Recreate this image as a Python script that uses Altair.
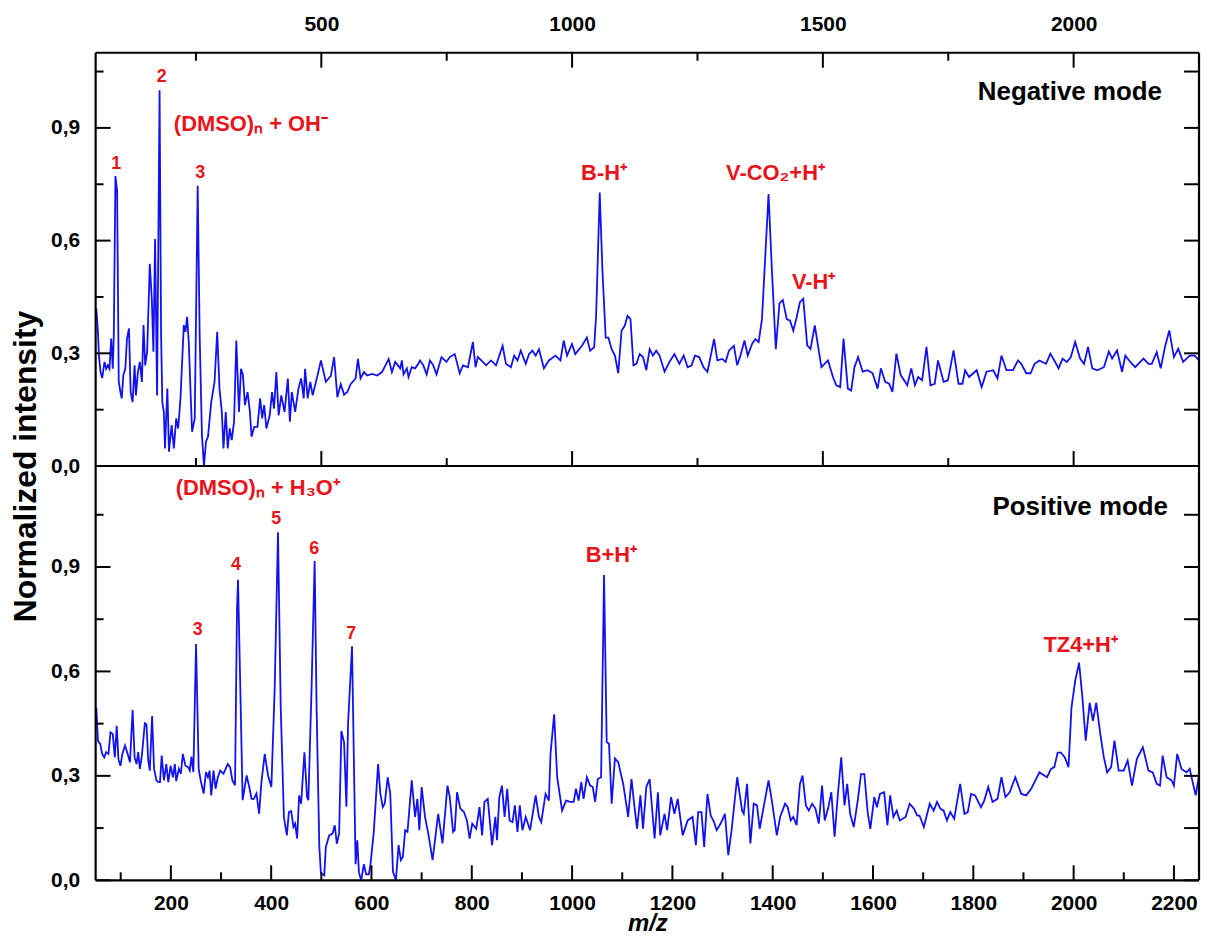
import altair as alt
import pandas as pd

# ---------------- data: negative mode (top panel) ----------------
mz_neg = [51.3, 54.6, 56.5, 59.8, 63.1, 67.7, 71.0, 74.3, 77.6, 81.0, 84.2, 86.2, 89.5, 92.8, 96.1, 99.4,
          102.0, 105.3, 109.2, 112.5, 116.5, 119.8, 123.7, 127.7, 130.3, 134.3, 138.2, 142.2, 145.5, 148.8,
          152.7, 158.0, 162.0, 165.2, 168.5, 172.5, 177.5, 180.5, 183.0, 186.0, 188.3, 193.0, 196.2, 201.5,
          206.0, 210.7, 214.6, 219.2, 225.8, 229.1, 232.4, 235.7, 239.0, 242.3, 247.6, 253.5, 257.4, 262.0,
          266.0, 270.0, 274.0, 280.5, 287.1, 292.4, 297.0, 301.6, 304.9, 309.5, 313.4, 317.4, 321.3, 326.0,
          330.5, 335.8, 339.8, 343.7, 347.7, 353.0, 357.6, 360.9, 366.1, 372.7, 378.0, 382.0, 386.0, 390.5,
          397.1, 401.7, 405.7, 410.3, 414.9, 420.1, 426.7, 433.3, 437.3, 441.2, 447.8, 454.4, 459.7, 464.9,
          467.6, 472.8, 478.1, 482.7, 492.6, 499.2, 509.0, 518.9, 525.5, 532.0, 538.7, 545.4, 551.9, 558.4,
          568.3, 573.0, 578.2, 585.0, 591.4, 601.3, 611.2, 621.0, 634.3, 640.8, 647.4, 657.3, 660.6, 663.9,
          670.5, 673.8, 680.3, 686.9, 693.5, 696.8, 703.4, 710.0, 716.6, 723.2, 729.7, 739.6, 749.5, 756.1,
          766.0, 775.9, 782.4, 792.3, 802.2, 807.5, 812.1, 822.0, 828.5, 838.4, 848.3, 861.5, 868.1, 878.0,
          884.5, 891.1, 897.7, 907.6, 914.2, 920.8, 927.4, 933.9, 943.8, 953.7, 966.9, 976.8, 983.3, 989.9,
          999.8, 1006.4, 1019.6, 1029.5, 1036.0, 1044.0, 1047.9, 1055.1, 1060.4, 1067.0, 1072.3, 1078.9,
          1085.4, 1092.0, 1098.6, 1105.2, 1110.5, 1116.4, 1122.3, 1128.3, 1134.8, 1141.4, 1148.0, 1154.6,
          1161.2, 1167.8, 1174.4, 1184.3, 1194.1, 1204.0, 1213.9, 1222.5, 1230.4, 1238.3, 1244.9, 1253.4,
          1262.0, 1269.9, 1276.5, 1283.1, 1289.7, 1299.5, 1306.1, 1312.7, 1322.6, 1329.2, 1335.7, 1343.7,
          1350.2, 1358.8, 1365.4, 1372.0, 1378.6, 1391.7, 1398.3, 1406.2, 1413.5, 1420.1, 1428.0, 1434.6,
          1441.1, 1447.7, 1454.3, 1460.9, 1468.8, 1475.4, 1483.9, 1497.1, 1510.3, 1520.1, 1526.7, 1534.6,
          1541.2, 1549.8, 1556.4, 1563.0, 1570.2, 1579.4, 1589.3, 1599.2, 1609.1, 1615.7, 1624.2, 1632.1,
          1638.7, 1646.6, 1655.2, 1668.3, 1676.3, 1683.5, 1690.1, 1698.0, 1706.6, 1714.5, 1723.0, 1729.6,
          1740.8, 1749.4, 1760.6, 1770.5, 1778.4, 1783.6, 1791.5, 1806.7, 1816.6, 1826.4, 1839.6, 1848.2,
          1856.1, 1866.0, 1879.1, 1889.0, 1895.6, 1905.5, 1914.1, 1922.0, 1931.8, 1945.0, 1953.6, 1961.5,
          1970.0, 1977.9, 1986.5, 1994.4, 2003.0, 2012.9, 2020.8, 2028.7, 2037.2, 2047.1, 2060.3, 2070.2,
          2076.8, 2086.6, 2096.5, 2103.1, 2113.0, 2122.8, 2139.3, 2149.2, 2155.8, 2165.7, 2173.6, 2182.1,
          2190.7, 2199.9, 2208.5, 2218.4, 2231.5, 2241.4, 2250.0]
int_neg = [0.419, 0.357, 0.295, 0.25, 0.234, 0.277, 0.259, 0.268, 0.259, 0.339, 0.259, 0.348, 0.772, 0.733, 0.224, 0.197,
           0.18, 0.242, 0.259, 0.339, 0.366, 0.197, 0.17, 0.268, 0.188, 0.25, 0.277, 0.224, 0.375, 0.268,
           0.304, 0.538, 0.445, 0.304, 0.604, 0.188, 1.0, 0.35, 0.17, 0.143, 0.047, 0.206, 0.038, 0.109,
           0.047, 0.127, 0.100, 0.18, 0.375, 0.357, 0.397, 0.33, 0.206, 0.091, 0.127, 0.746, 0.348, 0.082,
           0.0, 0.065, 0.078, 0.17, 0.224, 0.357, 0.206, 0.144, 0.047, 0.144, 0.047, 0.1, 0.069, 0.118,
           0.334, 0.144, 0.259, 0.242, 0.162, 0.197, 0.144, 0.078, 0.104, 0.104, 0.18, 0.127, 0.162, 0.1,
           0.135, 0.197, 0.153, 0.25, 0.135, 0.188, 0.144, 0.233, 0.118, 0.197, 0.144, 0.206, 0.233, 0.18,
           0.259, 0.18, 0.224, 0.188, 0.242, 0.281, 0.224, 0.24, 0.29, 0.183, 0.218, 0.19, 0.197, 0.218,
           0.233, 0.285, 0.233, 0.25, 0.241, 0.245, 0.241, 0.25, 0.285, 0.25, 0.277, 0.26, 0.281, 0.244,
           0.26, 0.237, 0.263, 0.26, 0.272, 0.281, 0.268, 0.244, 0.281, 0.268, 0.244, 0.29, 0.277, 0.29,
           0.298, 0.247, 0.268, 0.263, 0.330, 0.263, 0.29, 0.277, 0.268, 0.281, 0.268, 0.32, 0.272, 0.263,
           0.294, 0.281, 0.307, 0.272, 0.298, 0.307, 0.294, 0.311, 0.26, 0.281, 0.294, 0.281, 0.334, 0.294,
           0.325, 0.298, 0.32, 0.342, 0.307, 0.316, 0.40, 0.728, 0.524, 0.342, 0.342, 0.311,
           0.294, 0.247, 0.36, 0.374, 0.40, 0.391, 0.268, 0.272, 0.298, 0.29, 0.255, 0.311,
           0.294, 0.307, 0.294, 0.251, 0.277, 0.298, 0.272, 0.294, 0.263, 0.268, 0.294, 0.29,
           0.263, 0.251, 0.294, 0.338, 0.281, 0.285, 0.277, 0.307, 0.32, 0.268, 0.294, 0.334,
           0.294, 0.325, 0.338, 0.33, 0.391, 0.724, 0.524, 0.311, 0.433, 0.442, 0.391, 0.387,
           0.36, 0.396, 0.436, 0.445, 0.321, 0.312, 0.374, 0.263, 0.281, 0.237, 0.215, 0.210,
           0.339, 0.206, 0.201, 0.263, 0.29, 0.251, 0.255, 0.247, 0.206, 0.26, 0.224, 0.219,
           0.197, 0.299, 0.242, 0.215, 0.26, 0.215, 0.237, 0.228, 0.317, 0.215, 0.219, 0.281,
           0.224, 0.228, 0.308, 0.219, 0.219, 0.255, 0.237, 0.255, 0.21, 0.251, 0.255, 0.233,
           0.294, 0.255, 0.255, 0.281, 0.272, 0.247, 0.247, 0.272, 0.281, 0.272, 0.299, 0.281,
           0.26, 0.286, 0.277, 0.29, 0.330, 0.286, 0.272, 0.317, 0.26, 0.255, 0.263, 0.305,
           0.286, 0.308, 0.251, 0.294, 0.277, 0.263, 0.286, 0.272, 0.272, 0.303, 0.26, 0.317,
           0.361, 0.29, 0.312, 0.277, 0.294, 0.294, 0.281]

# ---------------- data: positive mode (bottom panel) ----------------
mz_pos = [51.3, 54.6, 59.2, 63.1, 67.1, 71.0, 75.6, 79.6, 84.2, 88.2, 92.1, 95.4, 99.4, 103.3, 108.6, 113.9,
          118.5, 123.7, 127.7, 131.6, 134.9, 138.2, 142.2, 148.1, 151.4, 154.7, 158.0, 162.6, 166.5, 171.2,
          175.1, 178.4, 181.7, 186.3, 190.9, 194.9, 199.5, 204.1, 208.0, 210.7, 216.0, 219.9, 223.9, 229.1,
          234.4, 237.7, 241.0, 244.9, 250.2, 255.5, 259.4, 265.4, 270.0, 273.9, 277.2, 280.5, 285.1, 289.1,
          293.7, 298.3, 304.9, 313.4, 318.1, 322.7, 327.9, 331.9, 333.9, 338.5, 343.1, 351.0, 356.3, 360.9,
          365.5, 370.7, 376.0, 380.6, 387.2, 393.8, 400.4, 407.0, 413.6, 419.0, 425.4, 431.3, 435.3, 439.9,
          444.5, 447.8, 451.8, 455.7, 459.7, 466.3, 471.5, 474.2, 480.5, 486.7, 490.5, 496.0, 499.2, 505.8,
          509.0, 515.7, 522.3, 526.9, 530.9, 535.5, 540.0, 545.4, 550.0, 553.3, 561.2, 568.3, 571.7, 575.0,
          579.5, 584.8, 589.4, 594.7, 598.0, 604.6, 613.2, 617.8, 622.5, 626.4, 632.3, 637.5, 642.8, 648.7,
          654.0, 658.6, 662.6, 667.2, 671.8, 680.3, 686.9, 691.5, 695.5, 700.1, 706.7, 713.3, 721.8, 733.0,
          741.6, 751.5, 756.1, 762.7, 766.0, 770.6, 777.2, 784.4, 790.3, 795.6, 800.9, 808.8, 815.4, 820.6,
          825.3, 831.8, 840.4, 847.0, 850.3, 854.9, 860.2, 865.4, 870.7, 875.3, 881.2, 885.9, 891.1, 895.7,
          901.0, 907.6, 916.2, 927.4, 933.9, 938.5, 947.1, 953.7, 957.0, 964.2, 970.2, 980.1, 988.0, 996.5,
          1003.1, 1007.7, 1013.0, 1018.3, 1022.9, 1029.5, 1036.0, 1041.3, 1045.9, 1051.2, 1057.8, 1063.7,
          1069.0, 1073.6, 1078.9, 1085.4, 1092.0, 1101.9, 1111.8, 1118.4, 1123.7, 1129.6, 1136.2, 1141.4,
          1148.0, 1154.6, 1164.5, 1171.1, 1175.7, 1184.3, 1189.5, 1197.4, 1204.0, 1210.6, 1220.5, 1230.4,
          1240.2, 1246.8, 1251.4, 1258.0, 1263.3, 1269.9, 1276.5, 1283.1, 1288.3, 1296.2, 1304.8, 1311.4,
          1318.0, 1329.2, 1339.0, 1342.3, 1348.9, 1355.5, 1362.1, 1368.7, 1374.0, 1381.9, 1391.7, 1398.3,
          1408.2, 1414.8, 1424.7, 1429.9, 1435.9, 1441.1, 1447.7, 1454.3, 1459.5, 1466.1, 1472.0, 1478.6,
          1485.2, 1491.8, 1498.4, 1503.7, 1510.3, 1516.9, 1523.4, 1530.0, 1536.6, 1543.2, 1548.5, 1554.4,
          1561.6, 1569.5, 1576.1, 1582.7, 1589.3, 1594.6, 1602.5, 1607.8, 1613.7, 1622.2, 1628.8, 1634.1,
          1640.7, 1647.3, 1653.2, 1665.1, 1673.0, 1681.5, 1688.1, 1692.7, 1701.3, 1713.1, 1721.0, 1727.6,
          1734.2, 1740.8, 1747.4, 1754.0, 1761.9, 1773.7, 1782.3, 1788.9, 1795.5, 1803.4, 1815.2, 1821.8,
          1829.7, 1838.3, 1848.2, 1856.1, 1864.0, 1872.5, 1883.7, 1895.6, 1905.5, 1915.4, 1931.8, 1947.0,
          1954.9, 1961.5, 1968.1, 1974.6, 1982.5, 1989.8, 1995.7, 2003.0, 2010.9, 2017.5, 2024.1, 2032.0,
          2038.5, 2045.1, 2053.7, 2060.3, 2066.9, 2074.8, 2081.4, 2089.9, 2099.8, 2107.7, 2116.3, 2126.2,
          2138.0, 2149.2, 2157.8, 2165.7, 2172.3, 2177.5, 2185.4, 2195.3, 2199.9, 2206.5, 2215.1, 2225.0,
          2231.5, 2238.1, 2243.4, 2250.0]
int_pos = [0.496, 0.401, 0.391, 0.363, 0.353, 0.368, 0.363, 0.425, 0.42, 0.353, 0.444, 0.348, 0.329, 0.363, 0.387, 0.363,
           0.339, 0.489, 0.353, 0.334, 0.368, 0.32, 0.358, 0.451, 0.448, 0.348, 0.315, 0.472, 0.32, 0.287,
           0.282, 0.282, 0.358, 0.287, 0.334, 0.282, 0.329, 0.296, 0.334, 0.285, 0.32, 0.306, 0.363, 0.329,
           0.325, 0.315, 0.355, 0.311, 0.679, 0.32, 0.287, 0.249, 0.311, 0.296, 0.315, 0.244, 0.315, 0.263,
           0.296, 0.315, 0.306, 0.334, 0.325, 0.287, 0.273, 0.78, 0.863, 0.55, 0.23, 0.301, 0.268, 0.234,
           0.234, 0.249, 0.191, 0.282, 0.363, 0.301, 0.268, 0.55, 1.0, 0.5, 0.181, 0.129, 0.196, 0.199,
           0.153, 0.163, 0.12, 0.244, 0.22, 0.368, 0.239, 0.23, 0.55, 0.917, 0.5, 0.096, 0.02, 0.014,
           0.096, 0.129, 0.134, 0.158, 0.105, 0.134, 0.429, 0.396, 0.211, 0.449, 0.672, 0.046, 0.115, 0.022,
           0.0, 0.046, 0.017, 0.017, 0.046, 0.139, 0.334, 0.248, 0.21, 0.22, 0.296, 0.248, 0.025, 0.0,
           0.101, 0.058, 0.068, 0.144, 0.139, 0.287, 0.182, 0.234, 0.144, 0.268, 0.182, 0.134, 0.058, 0.191,
           0.106, 0.272, 0.239, 0.139, 0.144, 0.253, 0.206, 0.196, 0.172, 0.12, 0.163, 0.148, 0.210, 0.129,
           0.225, 0.234, 0.101, 0.182, 0.115, 0.239, 0.272, 0.182, 0.263, 0.172, 0.167, 0.215, 0.139, 0.215,
           0.144, 0.182, 0.144, 0.244, 0.182, 0.167, 0.248, 0.229, 0.363, 0.477, 0.296, 0.2, 0.229, 0.225,
           0.225, 0.263, 0.229, 0.282, 0.234, 0.296, 0.272, 0.268, 0.225, 0.291, 0.296, 0.877,
           0.397, 0.392, 0.220, 0.35, 0.339, 0.277, 0.182, 0.291, 0.220, 0.148, 0.244, 0.148,
           0.268, 0.291, 0.120, 0.253, 0.129, 0.191, 0.144, 0.239, 0.191, 0.234, 0.129, 0.172,
           0.182, 0.101, 0.196, 0.196, 0.096, 0.248, 0.186, 0.167, 0.144, 0.163, 0.191, 0.072,
           0.144, 0.296, 0.2, 0.191, 0.277, 0.106, 0.220, 0.215, 0.148, 0.21, 0.287, 0.229,
           0.129, 0.182, 0.22, 0.21, 0.172, 0.182, 0.158, 0.277, 0.301, 0.215, 0.2, 0.22,
           0.206, 0.163, 0.272, 0.172, 0.206, 0.253, 0.125, 0.248, 0.353, 0.215, 0.277, 0.191,
           0.153, 0.229, 0.305, 0.305, 0.196, 0.148, 0.239, 0.21, 0.248, 0.253, 0.158, 0.244,
           0.182, 0.2, 0.172, 0.182, 0.22, 0.206, 0.186, 0.186, 0.153, 0.22, 0.2, 0.225,
           0.206, 0.2, 0.172, 0.196, 0.177, 0.277, 0.191, 0.196, 0.248, 0.244, 0.21, 0.229,
           0.268, 0.225, 0.234, 0.296, 0.239, 0.253, 0.296, 0.248, 0.244, 0.263, 0.310, 0.296,
           0.320, 0.325, 0.367, 0.367, 0.353, 0.325, 0.496, 0.572, 0.625, 0.525, 0.401, 0.51,
           0.458, 0.51, 0.415, 0.353, 0.310, 0.325, 0.401, 0.315, 0.315, 0.344, 0.272, 0.349,
           0.382, 0.315, 0.310, 0.277, 0.272, 0.358, 0.296, 0.287, 0.272, 0.363, 0.320, 0.310,
           0.320, 0.277, 0.244, 0.301]

# ---------------- annotations ----------------
neg_num_text = ["1", "2", "3"]
neg_num_mz = [91.0, 181.8, 258.8]
neg_num_y = [0.805, 1.035, 0.781]
neg_ion_text = ["B-H\u207a", "V-CO\u2082+H\u207a", "V-H\u207a"]
neg_ion_mz = [1063.7, 1405.6, 1481.6]
neg_ion_y = [0.781, 0.781, 0.489]
neg_cluster_text = ["(DMSO)\u2099 + OH\u207b"]
neg_cluster_mz = [206.0]
neg_cluster_y = [0.91]
neg_mode_text = ["Negative mode"]
neg_mode_mz = [2176.0]
neg_mode_y = [0.996]

pos_num_text = ["3", "4", "5", "6", "7"]
pos_num_mz = [253.5, 330.0, 410.2, 486.1, 559.8]
pos_num_y = [0.72, 0.906, 1.039, 0.953, 0.706]
pos_ion_text = ["B+H\u207a", "TZ4+H\u207a"]
pos_ion_mz = [1078.5, 2014.0]
pos_ion_y = [0.934, 0.677]
pos_cluster_text = ["(DMSO)\u2099 + H\u2083O\u207a"]
pos_cluster_mz = [209.5]
pos_cluster_y = [1.126]
pos_mode_text = ["Positive mode"]
pos_mode_mz = [2188.0]
pos_mode_y = [1.072]

# tick values
top_x_labels = [500, 1000, 1500, 2000]
top_x_minor = [250, 750, 1250, 1750]
bot_x_labels = [200, 400, 600, 800, 1000, 1200, 1400, 1600, 1800, 2000, 2200]
bot_x_minor = [100, 300, 500, 700, 900, 1100, 1300, 1500, 1700, 1900, 2100]
y_labels = [0.0, 0.3, 0.6, 0.9]
y_minor = [0.15, 0.45, 0.75, 1.05]

# ---------------- style ----------------
W = 1108
H_TOP = 415
H_BOT = 416
X_DOMAIN = [50, 2250]
Y_TOP = [0, 1.1]
Y_BOT = [0, 1.19]
BLUE = "#1212f0"
RED = "#e8141c"
FONT = "Liberation Sans"
MAJ = 15
MIN = 8

comma_expr = "replace(format(datum.value, '.1f'), '.', ',')"
int_expr = "format(datum.value, 'd')"


def xs():
    return alt.Scale(domain=X_DOMAIN, nice=False, zero=False)


def ys(dom):
    return alt.Scale(domain=dom, nice=False, zero=False)


def tick_layers(dom, h, x_major, x_minor, top_side, bottom_side):
    layers = []
    dfx_maj = pd.DataFrame({"mz": x_major})
    dfx_min = pd.DataFrame({"mz": x_minor})
    dfy_maj = pd.DataFrame({"y": y_labels})
    dfy_min = pd.DataFrame({"y": y_minor})
    rule = dict(color="black", strokeWidth=2)
    for df, ln in ((dfx_maj, MAJ), (dfx_min, MIN)):
        if top_side:
            layers.append(alt.Chart(df).mark_rule(**rule).encode(
                x=alt.X("mz:Q", scale=xs()), y=alt.value(0), y2=alt.value(ln)))
        if bottom_side:
            layers.append(alt.Chart(df).mark_rule(**rule).encode(
                x=alt.X("mz:Q", scale=xs()), y=alt.value(h), y2=alt.value(h - ln)))
    for df, ln in ((dfy_maj, MAJ), (dfy_min, MIN)):
        layers.append(alt.Chart(df).mark_rule(**rule).encode(
            y=alt.Y("y:Q", scale=ys(dom)), x=alt.value(0), x2=alt.value(ln)))
        layers.append(alt.Chart(df).mark_rule(**rule).encode(
            y=alt.Y("y:Q", scale=ys(dom)), x=alt.value(W), x2=alt.value(W - MAJ)))
    return layers


def frame_layer(h):
    # plot frame drawn as rules along the four edges
    df = pd.DataFrame({"side": ["t", "b", "l", "r"]})
    rule = dict(color="black", strokeWidth=2.2)
    return [
        alt.Chart(df.iloc[:1]).mark_rule(**rule).encode(x=alt.value(0), x2=alt.value(W), y=alt.value(0)),
        alt.Chart(df.iloc[1:2]).mark_rule(**rule).encode(x=alt.value(0), x2=alt.value(W), y=alt.value(h)),
        alt.Chart(df.iloc[2:3]).mark_rule(**rule).encode(y=alt.value(0), y2=alt.value(h), x=alt.value(0)),
        alt.Chart(df.iloc[3:4]).mark_rule(**rule).encode(y=alt.value(0), y2=alt.value(h), x=alt.value(W)),
    ]


def text_layer(mz, yv, txt, dom, size, color, align):
    df = pd.DataFrame({"mz": mz, "y": yv, "label": txt})
    return alt.Chart(df).mark_text(
        font=FONT, fontSize=size, fontWeight="bold", color=color,
        align=align, baseline="middle").encode(
        x=alt.X("mz:Q", scale=xs()), y=alt.Y("y:Q", scale=ys(dom)), text="label:N")


# ---------------- top panel ----------------
neg_df = pd.DataFrame({"mz": mz_neg, "y": int_neg})
top_line = alt.Chart(neg_df).mark_line(color=BLUE, strokeWidth=1.8).encode(
    x=alt.X("mz:Q", scale=xs(), axis=alt.Axis(
        orient="top", values=top_x_labels, labelExpr=int_expr, title=None, ticks=False, tickSize=0,
        domain=False, grid=False,
        labelFont=FONT, labelFontSize=21, labelFontWeight="bold", labelColor="black",
        labelPadding=18, labelFlush=False, labelOverlap=False)),
    y=alt.Y("y:Q", scale=ys(Y_TOP), axis=alt.Axis(
        orient="left", values=y_labels, labelExpr=comma_expr, ticks=False, tickSize=0, domain=False,
        grid=False, labelFont=FONT, labelFontSize=21, labelFontWeight="bold", labelColor="black",
        labelPadding=16, title="Normalized intensity", titleFont=FONT, titleFontSize=32,
        titleFontWeight="bold", titleColor="black", titleAngle=270, titleX=-70, titleY=H_TOP,
        titleAlign="center", titleBaseline="middle")),
)
top = alt.layer(
    top_line,
    *tick_layers(Y_TOP, H_TOP, top_x_labels, top_x_minor, True, True),
    *frame_layer(H_TOP),
    text_layer(neg_num_mz, neg_num_y, neg_num_text, Y_TOP, 18, RED, "center"),
    text_layer(neg_ion_mz, neg_ion_y, neg_ion_text, Y_TOP, 22, RED, "center"),
    text_layer(neg_cluster_mz, neg_cluster_y, neg_cluster_text, Y_TOP, 22, RED, "left"),
    text_layer(neg_mode_mz, neg_mode_y, neg_mode_text, Y_TOP, 26, "black", "right"),
).properties(width=W, height=H_TOP)

# ---------------- bottom panel ----------------
pos_df = pd.DataFrame({"mz": mz_pos, "y": int_pos})
bot_line = alt.Chart(pos_df).mark_line(color=BLUE, strokeWidth=1.8).encode(
    x=alt.X("mz:Q", scale=xs(), axis=alt.Axis(
        orient="bottom", values=bot_x_labels, labelExpr=int_expr, ticks=False, tickSize=0, domain=False,
        grid=False, labelFont=FONT, labelFontSize=21, labelFontWeight="bold", labelColor="black",
        labelPadding=12, labelFlush=False, labelOverlap=False,
        title="m/z", titleFont=FONT, titleFontSize=24, titleFontWeight="bold", titleFontStyle="italic",
        titleColor="black", titleX=W / 2, titleY=50, titleAlign="center", titleBaseline="alphabetic")),
    y=alt.Y("y:Q", scale=ys(Y_BOT), axis=alt.Axis(
        orient="left", values=y_labels, labelExpr=comma_expr, ticks=False, tickSize=0, domain=False,
        grid=False, labelFont=FONT, labelFontSize=21, labelFontWeight="bold", labelColor="black",
        labelPadding=16, title=None)),
)
bottom = alt.layer(
    bot_line,
    *tick_layers(Y_BOT, H_BOT, bot_x_labels, bot_x_minor, False, True),
    *frame_layer(H_BOT),
    text_layer(pos_num_mz, pos_num_y, pos_num_text, Y_BOT, 18, RED, "center"),
    text_layer(pos_ion_mz, pos_ion_y, pos_ion_text, Y_BOT, 22, RED, "center"),
    text_layer(pos_cluster_mz, pos_cluster_y, pos_cluster_text, Y_BOT, 22, RED, "left"),
    text_layer(pos_mode_mz, pos_mode_y, pos_mode_text, Y_BOT, 26, "black", "right"),
).properties(width=W, height=H_BOT)

chart = alt.vconcat(top, bottom, spacing=0, bounds="flush").properties(
    padding={"left": 2, "top": 4, "right": 0, "bottom": 0}
).configure(background="white").configure_view(stroke=None)

chart.save("out.html", embed_options={"renderer": "svg", "actions": False})
